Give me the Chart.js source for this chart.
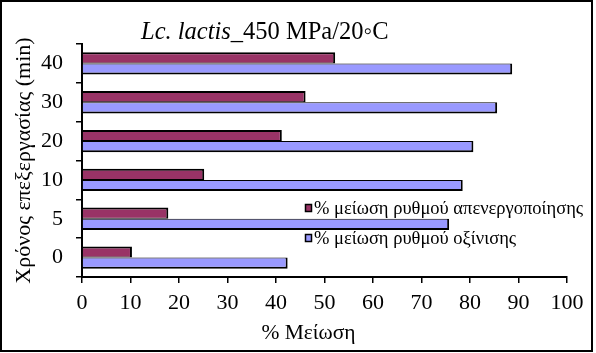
<!DOCTYPE html>
<html>
<head>
<meta charset="utf-8">
<script src="https://cdn.jsdelivr.net/npm/chart.js@4/dist/chart.umd.min.js"></script>
<style>
html, body { margin: 0; padding: 0; background: #ffffff; }
#wrap { width: 596px; height: 353px; position: relative; }
</style>
</head>
<body>
<div id="wrap"><canvas id="c" width="596" height="353"></canvas></div>
<script>
// ---- data ----
const categories = ['0', '5', '10', '20', '30', '40'];            // Χρόνος επεξεργασίας (min)
const inactivationReduction = [10.3, 17.8, 25.2, 41.2, 46.1, 52.2]; // % μείωση ρυθμού απενεργοποίησης
const acidificationReduction = [42.4, 75.7, 78.5, 80.7, 85.6, 88.7]; // % μείωση ρυθμού οξίνισης
const seriesNames = ['% μείωση ρυθμού απενεργοποίησης', '% μείωση ρυθμού οξίνισης'];
const xTickValues = [0, 10, 20, 30, 40, 50, 60, 70, 80, 90, 100];
const titleItalic = 'Lc. lactis';
const titleRest = '_450 MPa/20◦C';
const xTitle = '% Μείωση';
const yTitle = 'Χρόνος επεξεργασίας (min)';

const FONT = '"Liberation Serif", "Times New Roman", serif';
const MAROON = '#993366';
const LAVENDER = '#9999FF';

const decorPlugin = {
  id: 'decor',
  beforeDraw(chart) {
    const ctx = chart.ctx;
    ctx.save();
    ctx.fillStyle = '#ffffff';
    ctx.fillRect(0, 0, chart.width, chart.height);
    ctx.restore();
  },
  afterDraw(chart) {
    const ctx = chart.ctx;
    ctx.save();
    // outer frame
    ctx.strokeStyle = '#000';
    ctx.lineWidth = 2;
    ctx.strokeRect(1, 1, 591, 350);
    // title with italic species name
    ctx.fillStyle = '#000';
    ctx.textBaseline = 'alphabetic';
    ctx.textAlign = 'left';
    ctx.font = 'italic 24.5px ' + FONT;
    const tx = 141, ty = 38.5;
    ctx.fillText(titleItalic, tx, ty);
    const w = ctx.measureText(titleItalic).width;
    ctx.font = '24.5px ' + FONT;
    ctx.fillText(titleRest, tx + w, ty);
    // x axis title (offset left of plot centre, as in the original)
    ctx.font = '21.5px ' + FONT;
    ctx.textAlign = 'center';
    ctx.fillText(xTitle, 308.5, 338.5);
    ctx.textAlign = 'left';
    // legend overlaid in plot
    ctx.font = '18.5px ' + FONT;
    chart.data.datasets.forEach((ds, i) => {
      const by = 204.5 + i * 30;
      ctx.fillStyle = ds.backgroundColor;
      ctx.fillRect(305.5, by, 6, 7);
      ctx.strokeStyle = '#000';
      ctx.lineWidth = 1.5;
      ctx.strokeRect(305.5, by, 6, 7);
      ctx.fillStyle = '#000';
      ctx.fillText(ds.label, 314, 214 + i * 30);
    });
    ctx.restore();
  }
};

new Chart(document.getElementById('c'), {
  type: 'bar',
  data: {
    labels: categories,
    datasets: [
      {
        label: seriesNames[0],
        data: inactivationReduction,
        backgroundColor: MAROON,
        borderColor: '#000',
        borderWidth: { top: 2, right: 2, bottom: 1, left: 0 },
        borderSkipped: false,
        categoryPercentage: 0.575,
        barPercentage: 1.0
      },
      {
        label: seriesNames[1],
        data: acidificationReduction,
        backgroundColor: LAVENDER,
        borderColor: '#000',
        borderWidth: { top: 1, right: 2, bottom: 2, left: 0 },
        borderSkipped: false,
        categoryPercentage: 0.575,
        barPercentage: 1.0
      }
    ]
  },
  options: {
    indexAxis: 'y',
    responsive: false,
    animation: false,
    devicePixelRatio: 1,
    events: [],
    layout: { padding: { left: 0, top: 44, right: 29, bottom: 0 } },
    plugins: {
      legend: { display: false },
      title: { display: false },
      tooltip: { enabled: false }
    },
    scales: {
      y: {
        type: 'category',
        reverse: true,
        offset: true,
        grid: { display: true, drawOnChartArea: false, offset: true, color: '#000', lineWidth: 1.5, tickLength: 6 },
        border: { display: true, color: '#000', width: 2 },
        ticks: { color: '#000', font: { family: FONT, size: 22 }, padding: 13 },
        title: { display: true, text: yTitle, color: '#000', font: { family: FONT, size: 22 }, padding: { top: 11, bottom: 0 } },
        afterFit(scale) { scale.width = 82; }
      },
      x: {
        type: 'linear',
        min: 0,
        max: 100,
        afterBuildTicks(scale) { scale.ticks = xTickValues.map(v => ({ value: v })); },
        grid: { display: true, drawOnChartArea: false, color: '#000', lineWidth: 1.5, tickLength: 6 },
        border: { display: true, color: '#000', width: 2 },
        ticks: { color: '#000', font: { family: FONT, size: 22 }, padding: 7, maxRotation: 0 },
        title: { display: false, text: xTitle },
        afterFit(scale) { scale.height = 76; }
      }
    }
  },
  plugins: [decorPlugin]
});
</script>
</body>
</html>
